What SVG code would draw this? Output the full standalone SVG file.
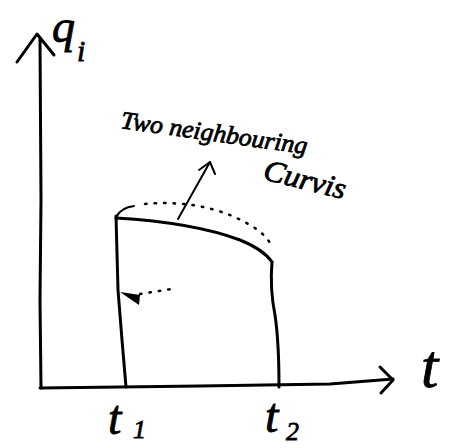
<svg xmlns="http://www.w3.org/2000/svg" width="460" height="448" viewBox="0 0 460 448">
<style>
.ln{fill:none;stroke:#000;stroke-width:3;stroke-linecap:round;stroke-linejoin:round}
.thin{fill:none;stroke:#000;stroke-width:2;stroke-linecap:round;stroke-linejoin:round}
.dot{fill:none;stroke:#000;stroke-width:2.5;stroke-linecap:round;stroke-dasharray:1.5 8}
.hw{font-family:"Liberation Serif","DejaVu Serif",serif;font-style:italic;fill:#000;stroke:#000;stroke-width:0.8}
</style>
<rect width="460" height="448" fill="#fff"/>
<g id="axes">
<path class="ln" d="M40,38 L41,200 L40,300 L41,388"/>
<path class="ln" d="M17,62 L37,34 L54,55"/>
<path class="ln" d="M40,388 L200,386 L330,384 L393,379"/>
<path class="ln" d="M380,367 L393,380 L381,393"/>
</g>
<g id="curves">
<path class="ln" d="M116,216 L118,290 L122,340 L126,387"/>
<path class="ln" d="M272,262 C270,285 272,300 275,315 C278,335 279,360 279,387"/>
<path class="ln" d="M116,218 C150,220 200,225 240,240 C255,246 265,252 272,262"/>
<path class="thin" d="M117,216 C120,210 126,207 134,206"/>
<path class="dot" d="M145,204 C190,200 225,210 250,225 C262,232 270,240 272,248"/>
</g>
<g id="connectors">
<path class="thin" d="M178,219 L210,162"/>
<path class="thin" d="M199,170 L210,162 L215,174"/>
<path class="dot" d="M140,294 L172,289"/>
<path d="M120,292 L140,295 L139,305 Z" fill="#000"/>
</g>
<g id="labels">
<text class="hw" x="52" y="42" font-size="46">q</text>
<text class="hw" x="77" y="61" font-size="30">i</text>
<text class="hw" x="421" y="387" font-size="62">t</text>
<text class="hw" x="108" y="434" font-size="48">t</text>
<text class="hw" x="133" y="438" font-size="26">1</text>
<text class="hw" x="265" y="432" font-size="48">t</text>
<text class="hw" x="286" y="440" font-size="26">2</text>
<text class="hw" font-size="25" transform="translate(120,128) rotate(8)" textLength="188" lengthAdjust="spacingAndGlyphs">Two neighbouring</text>
<text class="hw" font-size="30" transform="translate(262,179) rotate(14)" textLength="84" lengthAdjust="spacingAndGlyphs">Curvis</text>
</g>
</svg>
